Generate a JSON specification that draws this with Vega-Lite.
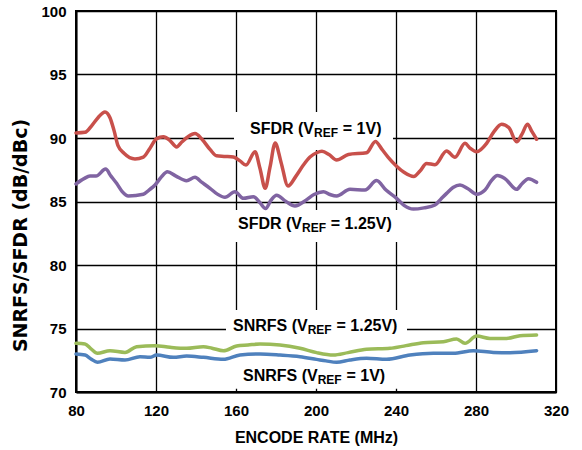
{
  "$schema": "https://vega.github.io/schema/vega-lite/v6.json",
  "width": 480,
  "height": 381,
  "autosize": "none",
  "padding": {"left": 76, "top": 11, "right": 26, "bottom": 58},
  "background": "white",
  "config": {
    "view": {"stroke": "#000000", "strokeWidth": 2},
    "font": "Liberation Sans",
    "axis": {
      "grid": true,
      "gridColor": "#000000",
      "gridWidth": 1.3,
      "gridOpacity": 1,
      "domain": true,
      "domainColor": "#000000",
      "domainWidth": 2,
      "ticks": false,
      "labelFlush": false,
      "labelFont": "Liberation Sans",
      "labelFontWeight": "bold",
      "labelFontSize": 15,
      "labelColor": "#000000",
      "titleFont": "Liberation Sans",
      "titleFontWeight": "bold",
      "titleFontSize": 16,
      "titleColor": "#000000"
    }
  },
  "datasets": {
    "curves": [
      {"series": "SFDR1", "x": 80, "y": 90.4}, {"series": "SFDR1", "x": 84.5, "y": 90.45}, {"series": "SFDR1", "x": 88, "y": 91.0}, {"series": "SFDR1", "x": 91, "y": 91.6}, {"series": "SFDR1", "x": 94.5, "y": 92.05}, {"series": "SFDR1", "x": 97, "y": 91.6}, {"series": "SFDR1", "x": 99, "y": 90.6}, {"series": "SFDR1", "x": 101, "y": 89.4}, {"series": "SFDR1", "x": 104, "y": 88.8}, {"series": "SFDR1", "x": 109.5, "y": 88.35}, {"series": "SFDR1", "x": 113.7, "y": 88.5}, {"series": "SFDR1", "x": 117, "y": 89.2}, {"series": "SFDR1", "x": 120.3, "y": 89.95}, {"series": "SFDR1", "x": 123.7, "y": 90.1}, {"series": "SFDR1", "x": 127, "y": 89.8}, {"series": "SFDR1", "x": 130.3, "y": 89.3}, {"series": "SFDR1", "x": 133, "y": 89.7}, {"series": "SFDR1", "x": 136, "y": 90.1}, {"series": "SFDR1", "x": 139.5, "y": 90.35}, {"series": "SFDR1", "x": 143, "y": 89.9}, {"series": "SFDR1", "x": 147, "y": 89.1}, {"series": "SFDR1", "x": 150.3, "y": 88.6}, {"series": "SFDR1", "x": 154, "y": 88.55}, {"series": "SFDR1", "x": 158.7, "y": 88.5}, {"series": "SFDR1", "x": 162, "y": 88.2}, {"series": "SFDR1", "x": 165, "y": 87.87}, {"series": "SFDR1", "x": 169.5, "y": 88.92}, {"series": "SFDR1", "x": 172, "y": 87.6}, {"series": "SFDR1", "x": 174.6, "y": 86.04}, {"series": "SFDR1", "x": 177, "y": 87.7}, {"series": "SFDR1", "x": 179.6, "y": 89.6}, {"series": "SFDR1", "x": 182.5, "y": 88.1}, {"series": "SFDR1", "x": 186, "y": 86.22}, {"series": "SFDR1", "x": 190, "y": 87.0}, {"series": "SFDR1", "x": 193.7, "y": 87.87}, {"series": "SFDR1", "x": 197, "y": 88.5}, {"series": "SFDR1", "x": 200.3, "y": 88.84}, {"series": "SFDR1", "x": 203, "y": 88.95}, {"series": "SFDR1", "x": 206.5, "y": 88.7}, {"series": "SFDR1", "x": 210.3, "y": 88.27}, {"series": "SFDR1", "x": 216.2, "y": 88.7}, {"series": "SFDR1", "x": 225.3, "y": 88.84}, {"series": "SFDR1", "x": 229.7, "y": 89.72}, {"series": "SFDR1", "x": 233, "y": 89.1}, {"series": "SFDR1", "x": 236, "y": 88.5}, {"series": "SFDR1", "x": 240.3, "y": 87.78}, {"series": "SFDR1", "x": 244, "y": 87.3}, {"series": "SFDR1", "x": 248.9, "y": 86.97}, {"series": "SFDR1", "x": 252, "y": 87.4}, {"series": "SFDR1", "x": 255.3, "y": 88.0}, {"series": "SFDR1", "x": 259.5, "y": 87.9}, {"series": "SFDR1", "x": 265.3, "y": 88.98}, {"series": "SFDR1", "x": 269.5, "y": 88.48}, {"series": "SFDR1", "x": 274.5, "y": 89.58}, {"series": "SFDR1", "x": 277, "y": 89.2}, {"series": "SFDR1", "x": 280.3, "y": 88.92}, {"series": "SFDR1", "x": 285.3, "y": 89.58}, {"series": "SFDR1", "x": 289, "y": 90.5}, {"series": "SFDR1", "x": 292.8, "y": 91.08}, {"series": "SFDR1", "x": 296.5, "y": 90.8}, {"series": "SFDR1", "x": 300.3, "y": 89.7}, {"series": "SFDR1", "x": 303, "y": 90.3}, {"series": "SFDR1", "x": 305.7, "y": 91.08}, {"series": "SFDR1", "x": 308, "y": 90.5}, {"series": "SFDR1", "x": 310.3, "y": 89.9},

      {"series": "SFDR125", "x": 80, "y": 86.38}, {"series": "SFDR125", "x": 84, "y": 86.8}, {"series": "SFDR125", "x": 87, "y": 87.0}, {"series": "SFDR125", "x": 90, "y": 87.0}, {"series": "SFDR125", "x": 94.8, "y": 87.55}, {"series": "SFDR125", "x": 97.5, "y": 87.0}, {"series": "SFDR125", "x": 100.3, "y": 86.43}, {"series": "SFDR125", "x": 103, "y": 85.8}, {"series": "SFDR125", "x": 106.2, "y": 85.43}, {"series": "SFDR125", "x": 113.7, "y": 85.57}, {"series": "SFDR125", "x": 116.5, "y": 85.9}, {"series": "SFDR125", "x": 119.5, "y": 86.3}, {"series": "SFDR125", "x": 122.5, "y": 86.9}, {"series": "SFDR125", "x": 125.7, "y": 87.35}, {"series": "SFDR125", "x": 130, "y": 87.0}, {"series": "SFDR125", "x": 135.3, "y": 86.64}, {"series": "SFDR125", "x": 139.5, "y": 86.9}, {"series": "SFDR125", "x": 143, "y": 86.5}, {"series": "SFDR125", "x": 147, "y": 86.04}, {"series": "SFDR125", "x": 150.5, "y": 85.6}, {"series": "SFDR125", "x": 154.5, "y": 85.33}, {"series": "SFDR125", "x": 159.5, "y": 85.77}, {"series": "SFDR125", "x": 163.7, "y": 85.25}, {"series": "SFDR125", "x": 168.7, "y": 85.38}, {"series": "SFDR125", "x": 172, "y": 84.9}, {"series": "SFDR125", "x": 174.8, "y": 84.45}, {"series": "SFDR125", "x": 177.5, "y": 85.1}, {"series": "SFDR125", "x": 180.3, "y": 85.5}, {"series": "SFDR125", "x": 185, "y": 85.0}, {"series": "SFDR125", "x": 189.5, "y": 84.65}, {"series": "SFDR125", "x": 195, "y": 85.1}, {"series": "SFDR125", "x": 199, "y": 85.55}, {"series": "SFDR125", "x": 203.7, "y": 85.77}, {"series": "SFDR125", "x": 207, "y": 85.55}, {"series": "SFDR125", "x": 210.3, "y": 85.43}, {"series": "SFDR125", "x": 217, "y": 85.96}, {"series": "SFDR125", "x": 224.5, "y": 85.9}, {"series": "SFDR125", "x": 230.3, "y": 86.65}, {"series": "SFDR125", "x": 235, "y": 85.9}, {"series": "SFDR125", "x": 240.3, "y": 85.25}, {"series": "SFDR125", "x": 244, "y": 84.7}, {"series": "SFDR125", "x": 248.7, "y": 84.4}, {"series": "SFDR125", "x": 254, "y": 84.5}, {"series": "SFDR125", "x": 259.5, "y": 84.72}, {"series": "SFDR125", "x": 262.5, "y": 85.2}, {"series": "SFDR125", "x": 265.3, "y": 85.64}, {"series": "SFDR125", "x": 268.5, "y": 86.1}, {"series": "SFDR125", "x": 272, "y": 86.3}, {"series": "SFDR125", "x": 276, "y": 86.0}, {"series": "SFDR125", "x": 280.3, "y": 85.57}, {"series": "SFDR125", "x": 284.5, "y": 85.9}, {"series": "SFDR125", "x": 287.5, "y": 86.6}, {"series": "SFDR125", "x": 290.7, "y": 87.05}, {"series": "SFDR125", "x": 294.5, "y": 86.8}, {"series": "SFDR125", "x": 300.3, "y": 85.96}, {"series": "SFDR125", "x": 303, "y": 86.4}, {"series": "SFDR125", "x": 306.2, "y": 86.8}, {"series": "SFDR125", "x": 310.3, "y": 86.51},

      {"series": "SNRFS125", "x": 80, "y": 73.83}, {"series": "SNRFS125", "x": 84.5, "y": 73.78}, {"series": "SNRFS125", "x": 87.5, "y": 73.4}, {"series": "SNRFS125", "x": 90.7, "y": 73.05}, {"series": "SNRFS125", "x": 97, "y": 73.25}, {"series": "SNRFS125", "x": 104.5, "y": 73.12}, {"series": "SNRFS125", "x": 110.3, "y": 73.57}, {"series": "SNRFS125", "x": 119.5, "y": 73.65}, {"series": "SNRFS125", "x": 127, "y": 73.52}, {"series": "SNRFS125", "x": 135.3, "y": 73.44}, {"series": "SNRFS125", "x": 143.7, "y": 73.57}, {"series": "SNRFS125", "x": 148, "y": 73.45}, {"series": "SNRFS125", "x": 153.7, "y": 73.25}, {"series": "SNRFS125", "x": 160.3, "y": 73.62}, {"series": "SNRFS125", "x": 166, "y": 73.7}, {"series": "SNRFS125", "x": 172, "y": 73.78}, {"series": "SNRFS125", "x": 182, "y": 73.7}, {"series": "SNRFS125", "x": 192, "y": 73.44}, {"series": "SNRFS125", "x": 200.3, "y": 73.1}, {"series": "SNRFS125", "x": 208.7, "y": 72.91}, {"series": "SNRFS125", "x": 216, "y": 73.1}, {"series": "SNRFS125", "x": 225.3, "y": 73.36}, {"series": "SNRFS125", "x": 237, "y": 73.44}, {"series": "SNRFS125", "x": 245, "y": 73.65}, {"series": "SNRFS125", "x": 253.7, "y": 73.88}, {"series": "SNRFS125", "x": 263.7, "y": 73.96}, {"series": "SNRFS125", "x": 270.3, "y": 74.17}, {"series": "SNRFS125", "x": 274.5, "y": 73.83}, {"series": "SNRFS125", "x": 280.3, "y": 74.4}, {"series": "SNRFS125", "x": 287, "y": 74.22}, {"series": "SNRFS125", "x": 295.3, "y": 74.22}, {"series": "SNRFS125", "x": 302, "y": 74.43}, {"series": "SNRFS125", "x": 310.3, "y": 74.49},

      {"series": "SNRFS1", "x": 80, "y": 72.99}, {"series": "SNRFS1", "x": 84.5, "y": 72.91}, {"series": "SNRFS1", "x": 87.5, "y": 72.6}, {"series": "SNRFS1", "x": 90.7, "y": 72.34}, {"series": "SNRFS1", "x": 97, "y": 72.6}, {"series": "SNRFS1", "x": 104.5, "y": 72.52}, {"series": "SNRFS1", "x": 112, "y": 72.78}, {"series": "SNRFS1", "x": 117, "y": 72.73}, {"series": "SNRFS1", "x": 120.3, "y": 72.91}, {"series": "SNRFS1", "x": 128.7, "y": 72.73}, {"series": "SNRFS1", "x": 135.3, "y": 72.83}, {"series": "SNRFS1", "x": 143.7, "y": 72.73}, {"series": "SNRFS1", "x": 153.7, "y": 72.57}, {"series": "SNRFS1", "x": 162, "y": 72.91}, {"series": "SNRFS1", "x": 172, "y": 72.99}, {"series": "SNRFS1", "x": 182, "y": 72.91}, {"series": "SNRFS1", "x": 192, "y": 72.78}, {"series": "SNRFS1", "x": 200.3, "y": 72.57}, {"series": "SNRFS1", "x": 205, "y": 72.45}, {"series": "SNRFS1", "x": 210.3, "y": 72.34}, {"series": "SNRFS1", "x": 217, "y": 72.52}, {"series": "SNRFS1", "x": 225.3, "y": 72.65}, {"series": "SNRFS1", "x": 235.3, "y": 72.57}, {"series": "SNRFS1", "x": 247, "y": 72.91}, {"series": "SNRFS1", "x": 258.7, "y": 73.05}, {"series": "SNRFS1", "x": 268.7, "y": 73.05}, {"series": "SNRFS1", "x": 278.7, "y": 73.25}, {"series": "SNRFS1", "x": 288.7, "y": 73.12}, {"series": "SNRFS1", "x": 297, "y": 73.1}, {"series": "SNRFS1", "x": 310.3, "y": 73.25}
    ],
    "boxes": [
      {"x": 159, "xe": 238.5, "y": 92.05, "ye": 89.06},
      {"x": 159, "xe": 241, "y": 84.33, "ye": 81.81},
      {"x": 155, "xe": 245.5, "y": 76.46, "ye": 70.25}
    ],
    "labels": [
      {"pre": "SFDR (V", "sub": "REF", "post": "= 1V)", "x": 199, "xp": 213.4, "y": 90.71},
      {"pre": "SFDR (V", "sub": "REF", "post": "= 1.25V)", "x": 193, "xp": 207.4, "y": 83.23},
      {"pre": "SNRFS (V", "sub": "REF", "post": "= 1.25V)", "x": 195.85, "xp": 210.25, "y": 75.22},
      {"pre": "SNRFS (V", "sub": "REF", "post": "= 1V)", "x": 200.85, "xp": 215.25, "y": 71.26}
    ]
  },
  "encoding": {
    "x": {
      "field": "x",
      "type": "quantitative",
      "scale": {"domain": [80, 320], "nice": false, "zero": false},
      "axis": {"values": [80, 120, 160, 200, 240, 280, 320], "title": "ENCODE RATE (MHz)", "labelPadding": 11, "titlePadding": 11}
    },
    "y": {
      "field": "y",
      "type": "quantitative",
      "scale": {"domain": [70, 100], "nice": false, "zero": false},
      "axis": {"values": [70, 75, 80, 85, 90, 95, 100], "title": "SNRFS/SFDR (dB/dBc)", "labelPadding": 10, "titlePadding": 10, "titleFont": "DejaVu Sans", "titleFontSize": 19, "titleY": 224}
    }
  },
  "layer": [
    {
      "data": {"name": "boxes"},
      "mark": {"type": "rect", "fill": "white", "stroke": null},
      "encoding": {
        "x2": {"field": "xe"},
        "y2": {"field": "ye"}
      }
    },
    {
      "data": {"name": "curves"},
      "mark": {"type": "line", "interpolate": "monotone", "strokeWidth": 3.5, "strokeCap": "round", "strokeJoin": "round"},
      "encoding": {
        "color": {
          "field": "series",
          "type": "nominal",
          "scale": {"domain": ["SFDR1", "SFDR125", "SNRFS125", "SNRFS1"], "range": ["#C8504B", "#8064A2", "#9BBB59", "#4F81BD"]},
          "legend": null
        },
        "detail": {"field": "series"}
      }
    },
    {
      "data": {"name": "labels"},
      "mark": {"type": "text", "align": "right", "baseline": "middle", "fontSize": 16, "fontWeight": "bold", "font": "Liberation Sans", "color": "#000000"},
      "encoding": {"text": {"field": "pre"}}
    },
    {
      "data": {"name": "labels"},
      "mark": {"type": "text", "align": "left", "baseline": "middle", "fontSize": 12, "fontWeight": "bold", "font": "Liberation Sans", "color": "#000000", "dy": 4},
      "encoding": {"text": {"field": "sub"}}
    },
    {
      "data": {"name": "labels"},
      "mark": {"type": "text", "align": "left", "baseline": "middle", "fontSize": 16, "fontWeight": "bold", "font": "Liberation Sans", "color": "#000000"},
      "encoding": {"x": {"field": "xp", "type": "quantitative"}, "text": {"field": "post"}}
    }
  ]
}
